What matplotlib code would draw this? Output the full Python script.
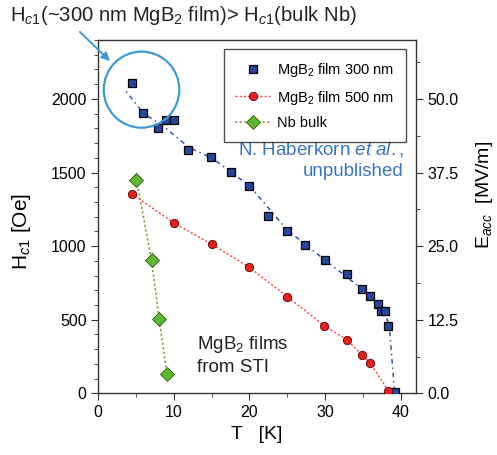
import matplotlib
matplotlib.use("Agg")
import matplotlib.pyplot as plt
from matplotlib.patches import Ellipse
from matplotlib.ticker import MultipleLocator, FormatStrFormatter

plt.rcParams['font.family'] = ['Liberation Sans', 'DejaVu Sans']
plt.rcParams['mathtext.fontset'] = 'custom'
plt.rcParams['mathtext.rm'] = 'Liberation Sans'
plt.rcParams['mathtext.it'] = 'Liberation Sans:italic'

# data
T_300 = [4.5, 5.9, 7.9, 9.0, 10.0, 11.9, 14.95, 17.6, 20.0, 22.5, 25.0, 27.4, 30.05, 32.9, 34.9, 35.95, 37.0, 37.4, 38.0, 38.4, 39.25]
H_300 = [2110, 1905, 1805, 1855, 1855, 1655, 1605, 1505, 1410, 1205, 1105, 1008, 908, 808, 710, 660, 610, 558, 558, 458, 12]
T_fit = [3.7, 6.0, 8.5, 12.0, 15.0, 20.0, 25.0, 30.0, 35.0, 37.8, 38.5, 39.2]
H_fit = [2050, 1900, 1820, 1670, 1600, 1410, 1110, 905, 705, 560, 460, 12]
T_500 = [4.4, 10.0, 15.0, 19.9, 25.0, 29.9, 32.9, 34.9, 35.95, 38.4]
H_500 = [1356, 1158, 1013, 859, 657, 460, 363, 261, 208, 15]
T_nb = [5.05, 7.04, 8.05, 9.1]
H_nb = [1451, 905, 503, 129]
labels = ['MgB$_2$ film 300 nm', 'MgB$_2$ film 500 nm', 'Nb bulk']
oe_to_mvm = 0.025

fig = plt.figure(figsize=(4.97, 4.55), dpi=100)
ax = fig.add_axes([0.1978, 0.1356, 0.8364 - 0.1978, 0.912 - 0.1356])

ax.plot(T_fit, H_fit, linestyle=(0, (1, 2.5, 3, 2.5)), color='#3355aa', lw=1.1, zorder=2)
ax.plot(T_300, H_300, linestyle='none', marker='s', ms=6, mfc='#25469a', mec='black', mew=0.9,
        label=labels[0], zorder=3)
ax.plot(T_500, H_500, linestyle=(0, (1.5, 1.5)), color='#ff3b3b', lw=1.0, marker='o', ms=6,
        mfc='#e8201e', mec='#5a0000', mew=0.6, label=labels[1], zorder=3)
ax.plot(T_nb, H_nb, linestyle=(0, (1.5, 1.5)), color='#8f8f3a', lw=1.1, marker='D', ms=7,
        mfc='#5cb82e', mec='#2d5a10', mew=0.6, label=labels[2], zorder=3)

ax.set_xlim(0, 42)
ax.set_ylim(0, 2400)
ax.xaxis.set_major_locator(MultipleLocator(10))
ax.xaxis.set_minor_locator(MultipleLocator(5))
ax.yaxis.set_major_locator(MultipleLocator(500))
ax.yaxis.set_minor_locator(MultipleLocator(100))
ax.tick_params(which='both', direction='out', top=False, right=False, labelsize=11.5, color='#333333')
ax.tick_params(which='major', length=5)
ax.tick_params(which='minor', length=3)
for s in ax.spines.values():
    s.set_color('#333333')
    s.set_linewidth(1.0)

ax.set_xlabel('T   [K]', fontsize=14, labelpad=4)
ax.set_ylabel('H$_{c1}$ [Oe]', fontsize=15)
ax.yaxis.set_label_coords(-0.205, 0.457)

ax2 = ax.twinx()
ax2.set_ylim(0, 2400 * oe_to_mvm)
ax2.yaxis.set_major_locator(MultipleLocator(12.5))
ax2.yaxis.set_minor_locator(MultipleLocator(6.25))
ax2.yaxis.set_major_formatter(FormatStrFormatter('%.1f'))
ax2.tick_params(which='both', direction='out', labelsize=11.5, color='#333333')
ax2.tick_params(which='major', length=5)
ax2.tick_params(which='minor', length=3)
ax2.set_ylabel('E$_{acc}$  [MV/m]', fontsize=14)
ax2.yaxis.set_label_coords(1.183, 0.561)
for s in ax2.spines.values():
    s.set_visible(False)

leg = ax.legend(loc='upper right', bbox_to_anchor=(0.993, 0.994), fontsize=10.5, frameon=True,
                fancybox=False, edgecolor='#222222', handlelength=2.4, borderpad=0.8,
                labelspacing=0.65, handletextpad=0.5)
leg.get_frame().set_linewidth(1.0)

# circle highlight
ell = Ellipse((5.72, 2063), width=10.0, height=517, fill=False, edgecolor='#3d9ad6', lw=1.6, zorder=4)
ax.add_patch(ell)

fig.text(0.02, 0.967, 'H$_{c1}$(~300 nm MgB$_2$ film)> H$_{c1}$(bulk Nb)', fontsize=14.6,
         va='center', ha='left', color='#222222')
fig.add_artist(matplotlib.patches.FancyArrowPatch(
    (78 / 497, 1 - 30 / 455), (112 / 497, 1 - 63 / 455), transform=fig.transFigure,
    arrowstyle='-|>', mutation_scale=12, color='#3d9ad6', lw=1.4))

ax.text(40.4, 1584, 'N. Haberkorn $et\\ al.$,\nunpublished', color='#3a75c4', fontsize=13.5,
        ha='right', va='center', linespacing=1.3)
ax.text(13.1, 260, 'MgB$_2$ films\nfrom STI', color='#222222', fontsize=13.5,
        ha='left', va='center', linespacing=1.3)

fig.savefig('out.png', dpi=100)
